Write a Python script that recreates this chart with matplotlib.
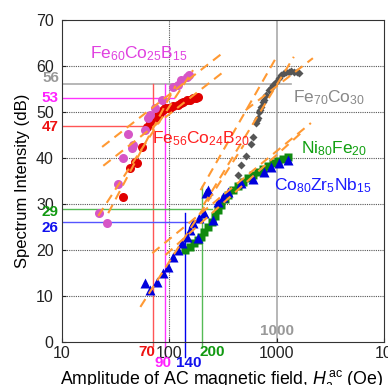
import matplotlib
matplotlib.use("Agg")
import matplotlib.pyplot as plt
import matplotlib.transforms as mtransforms

plt.rcParams['font.family'] = ['Liberation Sans', 'DejaVu Sans']
plt.rcParams['mathtext.fontset'] = 'custom'
plt.rcParams['mathtext.rm'] = 'Liberation Sans'
plt.rcParams['mathtext.it'] = 'Liberation Sans:italic'

# --- measured data (H in Oe, intensity in dB) ---
fecob15_h = [22.2, 26.3, 33.4, 37.2, 41.4, 45.1, 46.1, 59.7, 63.7, 66.4, 74.0, 86.0, 107, 121, 127, 147, 151]
fecob15_db = [28.0, 25.9, 34.3, 40.0, 45.2, 42.2, 42.8, 46.1, 48.7, 49.3, 50.9, 52.6, 55.4, 55.9, 57.0, 57.6, 58.0]

fecob20_h = [37.2, 43.2, 48.1, 50.2, 55.9, 62.3, 66.4, 74.0, 78.9, 82.4, 87.9, 91.8, 97.9, 102, 109,
             119, 127, 135, 147, 157, 167, 175, 183]
fecob20_db = [31.5, 37.8, 39.1, 38.9, 42.4, 46.7, 47.6, 48.7, 49.3, 49.8, 50.4, 50.9, 50.9, 50.9, 51.3,
              51.5, 52.0, 52.2, 52.6, 52.6, 53.0, 53.0, 53.3]

feco_h = [433, 461, 513, 571, 597, 637, 650, 664, 679, 693, 708, 739, 756, 789, 842, 879, 918, 980,
          1045, 1090, 1161, 1214, 1295, 1352, 1442, 1540, 1607]
feco_db = [36.3, 38.5, 40.4, 43.0, 44.6, 47.6, 48.3, 48.7, 50.0, 50.4, 51.1, 52.2, 52.6, 53.7, 54.8,
           55.2, 55.9, 56.5, 57.4, 58.0, 58.5, 58.7, 58.7, 58.9, 58.7, 58.7, 58.5]

nife_h = [141, 157, 171, 183, 195, 212, 231, 247, 264, 283, 300, 326, 348, 388, 433, 481, 536, 597,
          664, 739, 824, 918, 1021, 1138, 1268]
nife_db = [20.0, 20.7, 21.5, 22.2, 22.8, 23.9, 25.0, 26.1, 27.4, 28.7, 29.8, 31.1, 32.0, 33.0, 33.9,
           34.8, 35.7, 36.3, 37.0, 37.6, 38.3, 38.9, 39.3, 39.8, 40.2]

cozrnb_h = [59.7, 66.4, 77.2, 87.9, 98, 109, 121, 132, 147, 157, 167, 187, 208, 183, 252, 217, 231,
            281, 313, 348, 461, 597, 756, 879, 1045, 1268]
cozrnb_db = [12.8, 11.3, 13.0, 15.0, 16.3, 18.5, 20.0, 21.5, 22.8, 24.3, 25.9, 27.0, 28.0, 22.6, 26.5,
             32.4, 33.0, 30.4, 31.5, 32.6, 34.6, 35.4, 37.0, 38.0, 38.9, 39.6]

# fitted lines (two end points each: H, dB)
fit_lines = [
    ([23.6, 320], [42.4, 63.0]),
    ([24.2, 334], [38.3, 59.1]),
    ([21.7, 166], [27.4, 59.1]),
    ([26.9, 114], [28.0, 55.7]),
    ([195, 980], [33.0, 61.7]),
    ([208, 1442], [29.8, 62.0]),
    ([513, 2170], [50.4, 61.7]),
    ([53.6, 492], [7.6, 42.8]),
    ([69.3, 2080], [19.3, 47.6]),
    ([91.8, 1677], [18.9, 45.4]),
]

fig = plt.figure(figsize=(3.88, 3.85), dpi=100)
ax = fig.add_axes([0.160, 0.112, 0.830, 0.836])
ax.set_xscale('log')
ax.set_xlim(10, 10000)
ax.set_ylim(0, 70)

# grid
for v in range(10, 70, 10):
    ax.axhline(v, color='#555555', lw=0.8, ls=(0, (1, 1)), zorder=1)
ax.axvline(100, color='#555555', lw=0.8, ls=(0, (1, 1)), zorder=1)
ax.axvline(1000, color='#aaaaaa', lw=1.2, zorder=1)

# threshold guide lines
ax.plot([10, 1350], [56, 56], color='#aaaaaa', lw=1.2, zorder=1)
ax.plot([10, 110], [53, 53], color='#ff33ff', lw=1, zorder=1)
ax.plot([90, 90], [-3.2, 56], color='#ff33ff', lw=1, zorder=1, clip_on=False)
ax.plot([10, 70], [47, 47], color='#ff5555', lw=1, zorder=1)
ax.plot([70, 70], [-0.8, 56], color='#ff5555', lw=1, zorder=1, clip_on=False)
ax.plot([10, 250], [29, 29], color='#55bb55', lw=1, zorder=1)
ax.plot([200, 200], [-0.8, 34], color='#55bb55', lw=1, zorder=1, clip_on=False)
ax.plot([10, 150], [26, 26], color='#5555ff', lw=1, zorder=1)
ax.plot([140, 140], [-3.2, 28], color='#0000ee', lw=1, zorder=1, clip_on=False)

# data
ax.plot(fecob20_h, fecob20_db, 'o', color='#e00000', ms=6.5, mec='none', zorder=3)
ax.plot(fecob15_h, fecob15_db, 'o', color='#d656c6', ms=6.5, mec='none', zorder=4)
ax.plot(feco_h, feco_db, 'D', color='#555555', ms=4, mec='none', zorder=3)
ax.plot(nife_h, nife_db, 's', color='#108a10', ms=6, mec='none', zorder=3)
ax.plot(cozrnb_h, cozrnb_db, '^', color='#0000dd', ms=7, mec='none', zorder=4)

for fh, fd in fit_lines:
    ax.plot(fh, fd, color='#ff9933', lw=1.5, dashes=(4.5, 3), zorder=5)

# labels of the series
fs = 12.5
ax.text(18.3, 61.6, r'Fe$_{60}$Co$_{25}$B$_{15}$', color='#e040e0', fontsize=fs, zorder=6)
ax.text(69, 43.2, r'Fe$_{56}$Co$_{24}$B$_{20}$', color='#ff2020', fontsize=fs, zorder=6)
ax.text(1413, 52.2, r'Fe$_{70}$Co$_{30}$', color='#888888', fontsize=fs, zorder=6)
ax.text(1670, 41.0, r'Ni$_{80}$Fe$_{20}$', color='#11a011', fontsize=fs, zorder=6)
ax.text(938, 33.0, r'Co$_{80}$Zr$_{5}$Nb$_{15}$', color='#1a1aff', fontsize=fs, zorder=6)

# threshold numbers
bold = dict(fontsize=11, fontweight='bold', ha='right', va='center', clip_on=False)
ax.text(-0.01, 57.3, '56', color='#999999', transform=ax.get_yaxis_transform(), **bold)
ax.text(-0.01, 53, '53', color='#ff22ff', transform=ax.get_yaxis_transform(), **bold)
ax.text(-0.01, 46.7, '47', color='#ee1111', transform=ax.get_yaxis_transform(), **bold)
ax.text(-0.01, 28.2, '29', color='#119911', transform=ax.get_yaxis_transform(), **bold)
ax.text(-0.01, 24.8, '26', color='#1111ee', transform=ax.get_yaxis_transform(), **bold)
ax.text(1000, 2.3, '1000', color='#999999', fontsize=11, fontweight='bold', ha='center', va='center')

bot = dict(fontsize=11, fontweight='bold', ha='center', va='center', clip_on=False)
ax.text(61, -2.2, '70', color='#ee1111', **bot)
ax.text(88, -4.6, '90', color='#ff22ff', **bot)
ax.text(150, -4.6, '140', color='#1111ee', **bot)
ax.text(250, -2.2, '200', color='#119911', **bot)

ax.set_xticks([10, 100, 1000, 10000])
ax.set_xticklabels(['10', '100', '1000', '10000'])
ax.xaxis.set_minor_locator(matplotlib.ticker.NullLocator())
ax.set_yticks(range(0, 80, 10))
ax.tick_params(labelsize=11.5, length=3, direction='in', colors='#222222')
ax.tick_params(axis='y', pad=6)
ax.tick_params(axis='x', pad=3)
last = ax.get_xticklabels()[-1]
last.set_ha('left')
last.set_transform(last.get_transform() + mtransforms.ScaledTranslation(-7 / 72, 0, fig.dpi_scale_trans))
for s in ax.spines.values():
    s.set_color('#333333')

ax.set_xlabel(r'Amplitude of AC magnetic field, $H_{\mathrm{a}}^{\,\mathrm{ac}}$ (Oe)', fontsize=12.8)
ax.set_ylabel('Spectrum Intensity (dB)', fontsize=12, labelpad=4)
ax.xaxis.set_label_coords(0.497, -0.082)

fig.savefig('out.png', dpi=100)
